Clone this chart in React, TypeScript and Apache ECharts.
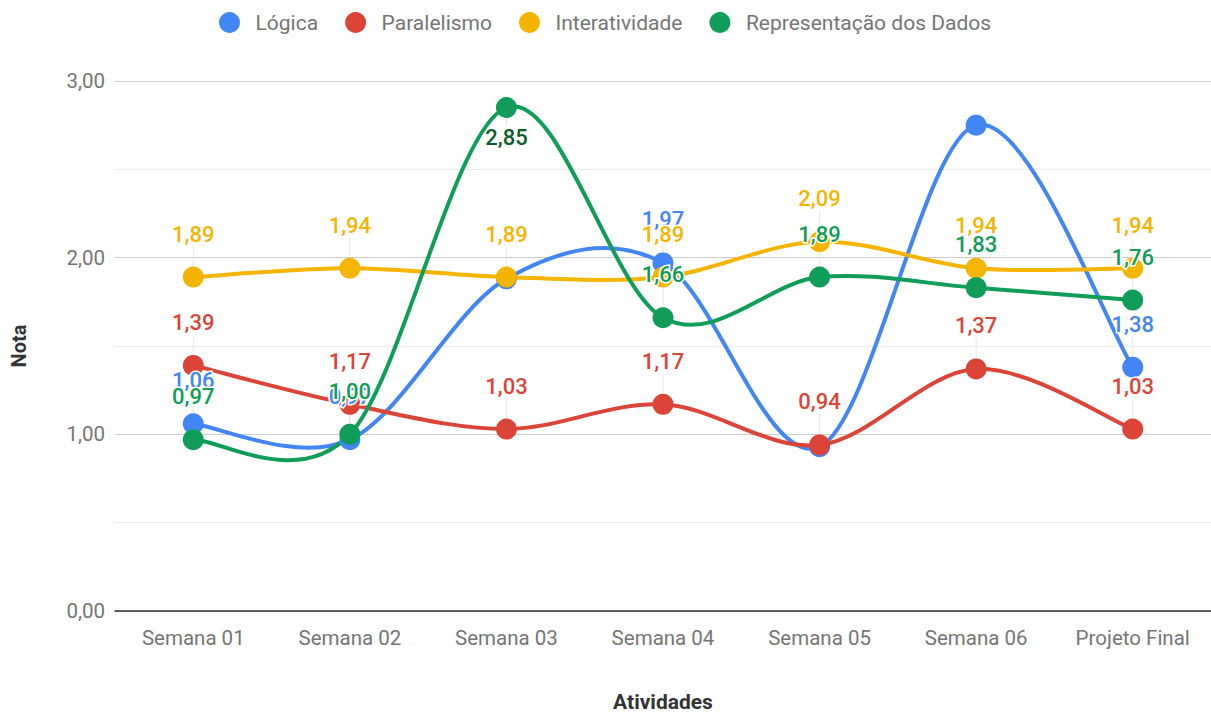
import React, { useEffect, useRef } from "react";
import * as echarts from "echarts";

const categories = ["Semana 01", "Semana 02", "Semana 03", "Semana 04", "Semana 05", "Semana 06", "Projeto Final"];
const logica = [1.06, 0.97, 1.88, 1.97, 0.93, 2.75, 1.38];
const paralelismo = [1.39, 1.17, 1.03, 1.17, 0.94, 1.37, 1.03];
const interatividade = [1.89, 1.94, 1.89, 1.89, 2.09, 1.94, 1.94];
const representacao = [0.97, 1.0, 2.85, 1.66, 1.89, 1.83, 1.76];
const seriesNames = ["Lógica", "Paralelismo", "Interatividade", "Representação dos Dados"];
const colors = ["#4285F4", "#DB4437", "#F4B400", "#0F9D58"];
// labels hidden in the reference
const hiddenLabels: Record<number, number[]> = { 0: [2, 4, 5] };

const fmt = (v: number) => v.toFixed(2).replace(".", ",");

export default function App() {
  const ref = useRef<HTMLDivElement>(null);
  useEffect(() => {
    if (!ref.current) return;
    const chart = echarts.init(ref.current, null, { renderer: "svg" });
    const all = [logica, paralelismo, interatividade, representacao];
    const series: any[] = [];
    all.forEach((vals, si) => {
      const n = vals.length;
      // smooth curve (Catmull-Rom through the data points, via the axis scales)
      series.push({
        name: seriesNames[si] + "_curve",
        type: "custom",
        silent: true,
        data: vals.slice(0, n - 1).map((v, i) => [i, v]),
        renderItem: (params: any, api: any) => {
          const i = params.dataIndex;
          const P = (k: number) => api.coord([k, vals[k]]);
          const p0 = P(Math.max(i - 1, 0));
          const p1 = P(i);
          const p2 = P(i + 1);
          const p3 = P(Math.min(i + 2, n - 1));
          return {
            type: "bezierCurve",
            shape: {
              x1: p1[0],
              y1: p1[1],
              x2: p2[0],
              y2: p2[1],
              cpx1: p1[0] + (p2[0] - p0[0]) / 6,
              cpy1: p1[1] + (p2[1] - p0[1]) / 6,
              cpx2: p2[0] - (p3[0] - p1[0]) / 6,
              cpy2: p2[1] - (p3[1] - p1[1]) / 6,
            },
            style: { stroke: colors[si], lineWidth: 4, fill: "none", lineCap: "round" },
          };
        },
      });
      series.push({
        name: seriesNames[si],
        type: "line",
        symbol: "circle",
        symbolSize: 21,
        lineStyle: { width: 0, opacity: 0, color: colors[si] },
        itemStyle: { color: colors[si] },
        data: vals.map((v, i) => {
          const hidden = (hiddenLabels[si] || []).includes(i);
          const inside = si === 3 && i === 2;
          return {
            value: v,
            label: {
              show: !hidden,
              color: inside ? "#0d5c2a" : colors[si],
            },
          };
        }),
        label: {
          show: true,
          position: "inside",
          formatter: (p: any) => fmt(p.value),
          fontFamily: "Roboto",
          fontSize: 22,
          fontWeight: 500,
          textBorderColor: "#fff",
          textBorderWidth: 3,
        },
        labelLayout: (p: any) => {
          if (p.seriesIndex === 7 && p.dataIndex === 2) return { dy: 30 };
          return { dy: -43 };
        },
        labelLine: { show: true, lineStyle: { color: "#e6e6e6", width: 1 } },
      });
    });

    chart.setOption({
      animation: false,
      textStyle: { fontFamily: "Roboto" },
      legend: {
        top: 12,
        left: 219,
        padding: 0,
        icon: "circle",
        itemWidth: 42,
        itemHeight: 21,
        itemGap: 27,
        textStyle: { color: "#757575", fontSize: 21, fontFamily: "Roboto" },
        data: seriesNames,
      },
      grid: { left: 115, right: 0, top: 81, bottom: 102 },
      xAxis: {
        type: "category",
        data: categories,
        boundaryGap: true,
        name: "Atividades",
        nameLocation: "middle",
        nameGap: 80,
        nameTextStyle: { color: "#333", fontSize: 21, fontWeight: "bold", fontFamily: "Roboto" },
        axisLine: { lineStyle: { color: "#333", width: 1.5 } },
        axisTick: { show: false },
        axisLabel: { color: "#757575", fontSize: 20.5, margin: 16, fontFamily: "Roboto" },
      },
      yAxis: {
        type: "value",
        min: 0,
        max: 3,
        interval: 1,
        name: "Nota",
        nameLocation: "middle",
        nameRotate: 90,
        nameGap: 86,
        nameTextStyle: { color: "#333", fontSize: 20, fontWeight: "bold", fontFamily: "Roboto" },
        axisLine: { show: false },
        axisTick: { show: false },
        axisLabel: { color: "#757575", fontSize: 20.5, margin: 10, formatter: (v: number) => fmt(v), fontFamily: "Roboto" },
        splitLine: { lineStyle: { color: "#cccccc", width: 1 } },
        minorTick: { show: false, splitNumber: 2 },
        minorSplitLine: { show: true, lineStyle: { color: "#ebebeb", width: 1 } },
      },
      series,
    });
    return () => chart.dispose();
  }, []);
  return <div ref={ref} style={{ position: "absolute", left: 0, top: 0, width: 1211, height: 717, background: "#fff" }} />;
}
